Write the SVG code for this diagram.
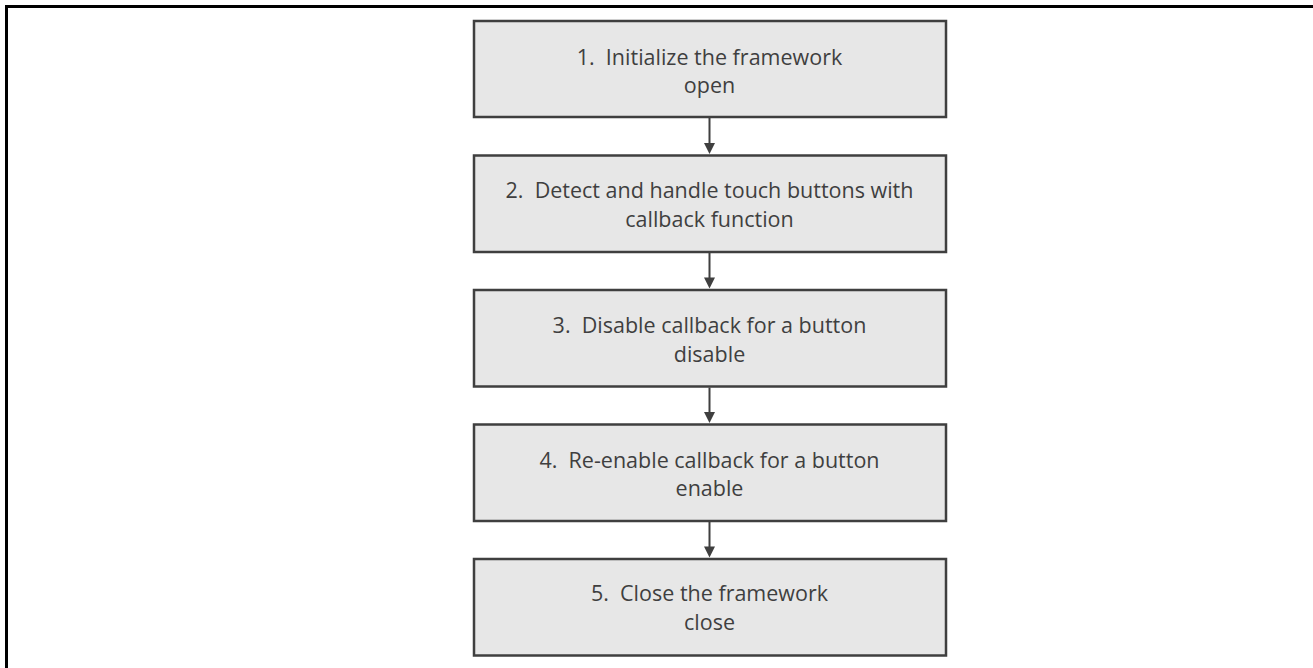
<svg xmlns="http://www.w3.org/2000/svg" width="1313" height="668" viewBox="0 0 1313 668">
<style>
.box{fill:#e7e7e7;stroke:#3f3f3f;stroke-width:2.5}
.t{font-family:"Open Sans","Liberation Sans",sans-serif;font-size:21.5px;fill:#3f3f3f;text-anchor:middle;white-space:pre}
.c{stroke:#3f3f3f;stroke-width:2;fill:none}
</style>
<rect x="0" y="0" width="1313" height="668" fill="#fff"/>
<path d="M6.5,668 V6.5 H1313" fill="none" stroke="#000" stroke-width="3"/>
<g id="connectors">
<path class="c" d="M709.5,118 V144"/><polygon points="704,143 715,143 709.5,154" fill="#3f3f3f"/>
<path class="c" d="M709.5,253 V278"/><polygon points="704,277.5 715,277.5 709.5,288.5" fill="#3f3f3f"/>
<path class="c" d="M709.5,387.5 V412.5"/><polygon points="704,412 715,412 709.5,423" fill="#3f3f3f"/>
<path class="c" d="M709.5,522 V547"/><polygon points="704,546.5 715,546.5 709.5,557.5" fill="#3f3f3f"/>
</g>
<g id="n1"><rect class="box" x="474" y="21" width="472" height="96"/>
<text class="t" x="709.5" y="65" xml:space="preserve">1.  Initialize the framework</text><text class="t" x="709.5" y="93">open</text></g>
<g id="n2"><rect class="box" x="474" y="155.5" width="472" height="96.5"/>
<text class="t" x="709.5" y="198" xml:space="preserve">2.  Detect and handle touch buttons with</text><text class="t" x="709.5" y="226.5">callback function</text></g>
<g id="n3"><rect class="box" x="474" y="290" width="472" height="96.5"/>
<text class="t" x="709.5" y="333" xml:space="preserve">3.  Disable callback for a button</text><text class="t" x="709.5" y="361.5">disable</text></g>
<g id="n4"><rect class="box" x="474" y="424.5" width="472" height="96.5"/>
<text class="t" x="709.5" y="467.5" xml:space="preserve">4.  Re-enable callback for a button</text><text class="t" x="709.5" y="496">enable</text></g>
<g id="n5"><rect class="box" x="474" y="559" width="472" height="96.5"/>
<text class="t" x="709.5" y="601" xml:space="preserve">5.  Close the framework</text><text class="t" x="709.5" y="629.5">close</text></g>
</svg>
